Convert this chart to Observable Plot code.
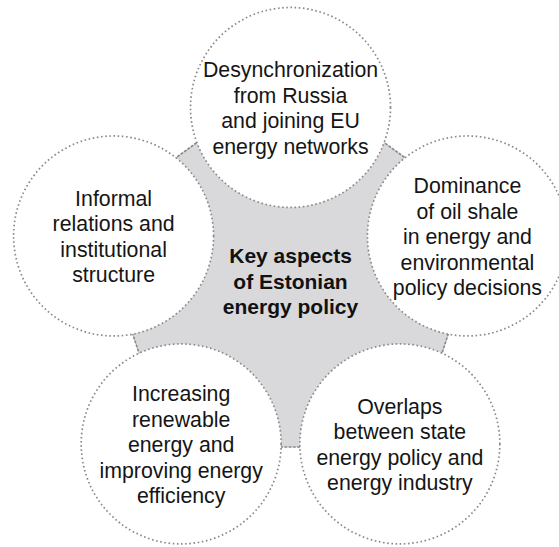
<!DOCTYPE html>
<html>
<head>
<meta charset="utf-8">
<script src="https://cdn.jsdelivr.net/npm/d3@7"></script>
<script src="https://cdn.jsdelivr.net/npm/@observablehq/plot@0.6"></script>
<style>
  html, body { margin: 0; padding: 0; background: #fff; }
  #chart { width: 559px; height: 547px; overflow: hidden; }
</style>
</head>
<body>
<div id="chart"></div>
<script>
// Data: the five aspects (clockwise from top) and the central label
const aspects = [
  "Desynchronization\nfrom Russia\nand joining EU\nenergy networks",
  "Dominance\nof oil shale\nin energy and\nenvironmental\npolicy decisions",
  "Overlaps\nbetween state\nenergy policy and\nenergy industry",
  "Increasing\nrenewable\nenergy and\nimproving energy\nefficiency",
  "Informal\nrelations and\ninstitutional\nstructure"
];
const centerLabel = ["Key aspects\nof Estonian\nenergy policy"];

// Layout (regular pentagon, unit circumradius)
const n = aspects.length;
const angle = i => (90 - 360 / n * i) * Math.PI / 180;
const nodes = aspects.map((label, i) => ({label, x: Math.cos(angle(i)), y: Math.sin(angle(i))}));
const hubShift = 0.07;     // centre of the grey star, slightly above the pentagon centre
const hubRadius = 1.107;   // circumradius of the grey star pentagon
const hub = aspects.map((_, i) => ({x: hubRadius * Math.cos(angle(i)), y: hubShift + hubRadius * Math.sin(angle(i))}));
const hubCenter = centerLabel.map(label => ({label, x: 0, y: hubShift}));

const dotted = {stroke: "#8a8a8a", strokeWidth: 1.7, strokeDasharray: "1.6 2.6"};
const font = "'Liberation Sans', Arial, Helvetica, sans-serif";

const chart = Plot.plot({
  width: 559,
  height: 547,
  margin: 0,
  x: {domain: [-1.559, 1.446], axis: null},
  y: {domain: [-1.366, 1.575], axis: null},
  marks: [
    Plot.line(hub, {x: "x", y: "y", curve: "linear-closed", fill: "#d9d9db", ...dotted}),
    Plot.dot(nodes, {x: "x", y: "y", r: 100, fill: "white", ...dotted}),
    Plot.text(nodes, {x: "x", y: "y", text: "label", fontSize: 21.3, lineHeight: 1.2, fill: "#151515", fontFamily: font}),
    Plot.text(hubCenter, {x: "x", y: "y", text: "label", fontSize: 21, fontWeight: "bold", lineHeight: 1.22, fill: "#111", fontFamily: font})
  ]
});
document.getElementById("chart").append(chart);
</script>
</body>
</html>
